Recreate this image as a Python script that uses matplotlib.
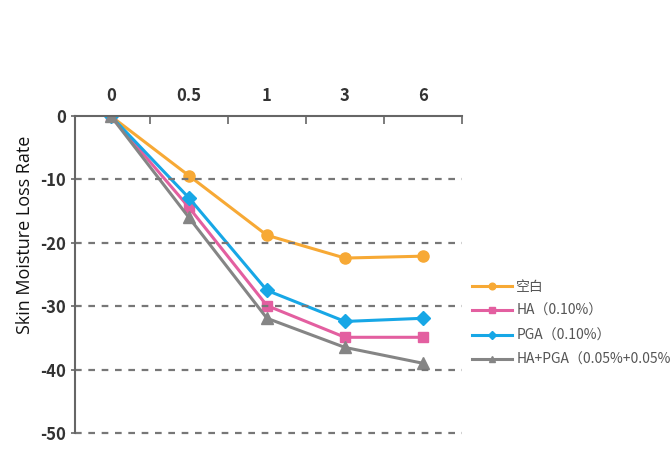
import matplotlib.pyplot as plt
from matplotlib.ticker import FixedLocator

plt.rcParams['font.family'] = ['Noto Sans CJK SC', 'DejaVu Sans']

times = ["0", "0.5", "1", "3", "6"]
blank = [0, -9.4, -18.8, -22.4, -22.1]
ha = [0, -14.4, -29.9, -34.9, -34.9]
pga = [0, -12.9, -27.5, -32.4, -31.9]
ha_pga = [0, -16.0, -31.9, -36.5, -39.0]
labels = ["空白", "HA（0.10%）", "PGA（0.10%）", "HA+PGA（0.05%+0.05%"]
colors = ["#F7A935", "#E35FA0", "#17A7E6", "#858585"]
markers = ["o", "s", "D", "^"]
sizes = [8, 7, 7, 8]

fig = plt.figure(figsize=(6.72, 4.57), dpi=100)
ax = fig.add_axes([0.1116, 0.0525, 0.5759, 0.6935])

x = list(range(len(times)))
for ys, lab, c, m, ms in zip([blank, ha, pga, ha_pga], labels, colors, markers, sizes):
    ax.plot(x, ys, color=c, marker=m, markersize=ms, linewidth=2.2, label=lab)

ax.set_xlim(-0.46, 4.5)
ax.set_ylim(-50, 0)

# x labels on top, ticks between categories
ax.xaxis.tick_top()
ax.set_xticks(x)
ax.set_xticklabels(times, fontsize=12, color="#333333", fontweight="bold")
ax.xaxis.set_minor_locator(FixedLocator([0.5, 1.5, 2.5, 3.5, 4.5]))
ax.tick_params(axis="x", which="major", length=0, pad=8)
ax.tick_params(axis="x", which="minor", direction="in", length=6, color="#666666", width=1.2)

ax.set_yticks([0, -10, -20, -30, -40, -50])
ax.set_yticklabels(["0", "-10", "-20", "-30", "-40", "-50"], fontsize=12, color="#333333",
                   fontweight="bold")
ax.tick_params(axis="y", length=3, color="#666666", width=1.2)

for yv in [-10, -20, -30, -40, -50]:
    ax.axhline(yv, color="#777777", linestyle=(0, (3, 3)), linewidth=1.6, clip_on=False)

for s in ["bottom", "right"]:
    ax.spines[s].set_visible(False)
for s in ["top", "left"]:
    ax.spines[s].set_color("#666666")
    ax.spines[s].set_linewidth(1.5)

fig.text(0.037, 0.486, "Skin Moisture Loss Rate", rotation=90, ha="center", va="center",
         fontsize=13, family=["Open Sans", "DejaVu Sans"], color="#111111")

fig.legend(loc="upper left", bbox_to_anchor=(0.702, 0.388), frameon=False, fontsize=10,
           handlelength=2.9, handletextpad=0.3, labelspacing=0.75, markerscale=0.6,
           borderpad=0, borderaxespad=0, labelcolor="#555555")

fig.savefig("out.png", dpi=100)
